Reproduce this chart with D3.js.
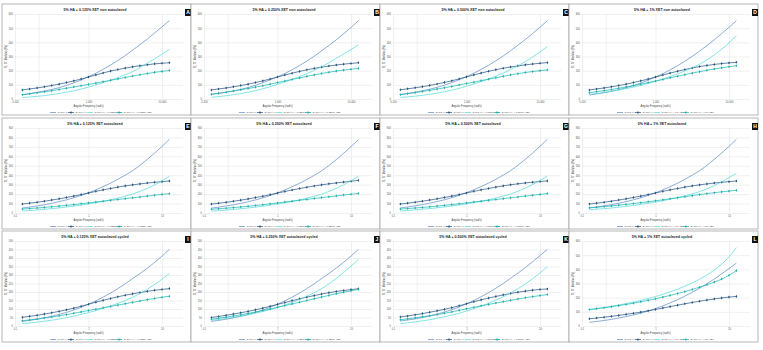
<!DOCTYPE html>
<html>
<head>
<meta charset="utf-8">
<script src="https://cdn.jsdelivr.net/npm/d3@7/dist/d3.min.js"></script>
<style>
body{margin:0;background:#fff;}
text{font-family:"Liberation Sans",Arial,sans-serif;}
</style>
</head>
<body>
<div id="chart"></div>
<script>

// angular frequency (rad/s)
var freqs = [0.126,0.158,0.200,0.251,0.316,0.398,0.501,0.631,0.794,1.00,1.26,1.58,2.00,2.51,3.16,3.98,5.01,6.31,7.94,10.0,12.6];

var panelLetters = ["A","B","C","D","E","F","G","H","I","J","K","L"];
var panelTitles = [
  "5% HA + 0.125% XET non autoclaved","5% HA + 0.250% XET non autoclaved","5% HA + 0.500% XET non autoclaved","5% HA + 1% XET non autoclaved",
  "5% HA + 0.125% XET autoclaved","5% HA + 0.250% XET autoclaved","5% HA + 0.500% XET autoclaved","5% HA + 1% XET autoclaved",
  "5% HA + 0.125% XET autoclaved cycled","5% HA + 0.250% XET autoclaved cycled","5% HA + 0.500% XET autoclaved cycled","5% HA + 1% XET autoclaved cycled"
];
var xetLabels = ["0.125%","0.250%","0.500%","1%","0.125%","0.250%","0.500%","1%","0.125%","0.250%","0.500%","1%"];

var yTicks600 = [0,100,200,300,400,500,600];
var yTicks900 = [0,100,200,300,400,500,600,700,800,900];
var yTicks500 = [0,50,100,150,200,250,300,350,400,450,500];
var panelYTicks = [yTicks600,yTicks600,yTicks600,yTicks600,yTicks900,yTicks900,yTicks900,yTicks900,yTicks500,yTicks500,yTicks500,yTicks600];

var xGridValues = [0.1,0.21,1,10];
var xTickLabelsTop = ["0.100","","1.000","10.000"];
var xTickLabelsLow = ["0.1","","1","10"];

// series order: G' 5% HA, G'' 5% HA, G' 5% HA + XET, G'' 5% HA + XET
var panelA = [
  [30,38,47,56,67,80,96,114,134,158,182,210,240,272,306,345,383,423,466,510,553],
  [64,71,78,86,95,105,116,128,141,155,170,184,197,208,218,227,235,242,248,252,256],
  [10,14,19,24,31,39,48,58,70,84,100,116,133,151,171,193,222,252,283,316,350],
  [30,37,44,51,59,67,76,85,94,103,112,122,132,142,152,162,171,180,188,195,202]
];
var panelB = [
  [33,40,48,57,68,81,97,115,135,157,180,207,236,268,302,340,378,418,460,505,553],
  [64,71,78,86,95,105,116,128,141,155,169,182,195,206,216,225,233,240,246,251,256],
  [12,17,23,30,38,48,59,72,87,104,121,139,158,179,202,227,256,287,318,349,381],
  [33,40,48,56,65,74,84,94,105,116,127,138,149,160,170,180,189,197,204,210,216]
];
var panelC = [
  [31,39,48,58,69,82,98,116,136,158,182,209,238,270,304,341,380,420,462,507,553],
  [65,72,79,87,96,106,117,129,142,156,170,183,196,207,217,226,234,241,247,252,257],
  [11,15,20,26,33,41,51,62,75,90,106,123,141,161,183,207,234,264,297,332,370],
  [31,38,45,53,61,70,79,89,99,109,119,130,140,150,160,170,179,187,194,200,205]
];
var panelD = [
  [28,36,45,55,66,79,95,113,133,155,179,206,235,267,301,338,377,418,461,506,553],
  [64,71,78,86,95,105,116,128,141,155,169,183,196,208,219,229,237,244,250,255,259],
  [33,39,46,54,63,73,84,96,110,125,141,158,177,198,221,246,276,311,351,396,447],
  [45,52,59,67,76,85,95,105,116,127,138,150,161,172,183,193,203,212,220,228,235]
];
var panelE = [
  [53,63,75,88,103,120,139,161,186,214,245,279,316,357,401,448,505,568,635,705,780],
  [95,104,114,125,137,150,164,179,195,212,229,245,260,274,287,298,308,317,325,332,339],
  [21,26,32,39,46,54,63,73,84,96,109,124,140,158,178,200,229,261,298,340,388],
  [42,47,53,59,66,73,81,89,98,107,116,125,134,143,152,161,170,179,188,197,205]
];
var panelF = [
  [52,62,74,87,102,119,138,160,185,213,244,278,315,355,399,446,503,565,632,703,775],
  [94,103,113,124,136,149,163,178,194,211,228,244,259,273,286,298,309,318,327,336,346],
  [20,25,31,38,45,53,62,72,83,95,108,123,139,157,177,199,228,261,299,341,388],
  [40,45,51,57,64,71,79,88,97,106,116,125,135,144,154,163,172,181,190,199,207]
];
var panelG = [
  [54,64,76,89,104,121,140,162,187,215,246,280,317,357,401,449,506,568,635,706,780],
  [95,104,114,125,137,150,164,179,195,212,229,245,260,274,287,299,309,318,326,333,340],
  [22,27,33,40,47,55,64,74,85,97,110,125,141,159,179,201,230,263,301,344,392],
  [42,47,53,59,66,73,81,89,98,107,116,125,134,143,152,161,170,179,188,197,206]
];
var panelH = [
  [53,63,75,88,103,120,139,161,186,214,245,279,316,357,401,448,505,568,635,705,780],
  [95,104,114,125,137,150,164,179,195,212,229,245,260,274,287,298,308,317,325,332,339],
  [35,40,46,53,61,70,80,91,103,116,130,146,163,182,203,226,256,290,330,374,420],
  [55,61,68,75,83,91,100,109,119,129,140,151,162,173,184,195,205,215,224,232,240]
];
var panelI = [
  [27,33,40,48,57,68,80,94,110,128,148,170,194,220,248,279,308,340,374,411,451],
  [51,57,63,70,78,86,95,105,116,128,140,151,162,172,181,189,197,204,210,215,220],
  [14,18,23,28,34,41,49,58,68,79,91,104,118,133,150,169,191,216,244,275,309],
  [31,36,41,47,53,60,67,75,83,91,99,107,115,123,131,139,147,155,162,169,175]
];
var panelJ = [
  [27,33,40,48,57,68,80,94,110,128,148,170,194,220,248,279,309,341,375,411,450],
  [50,56,63,70,78,86,95,105,116,127,138,149,160,170,179,188,196,203,209,214,219],
  [34,39,45,51,58,66,75,85,96,109,123,139,156,175,196,219,248,280,315,352,392],
  [40,46,52,59,66,74,82,91,100,110,120,130,140,150,160,170,180,190,199,207,215]
];
var panelK = [
  [29,35,42,50,59,70,82,96,112,130,150,172,196,222,250,281,311,343,378,414,451],
  [53,59,66,73,81,89,98,108,119,131,143,154,164,174,183,191,199,205,211,215,218],
  [14,19,24,30,37,45,54,64,75,88,102,117,134,152,172,194,219,247,278,312,350],
  [37,42,48,54,60,67,75,83,92,101,110,119,127,135,143,151,159,166,173,179,185]
];
var panelL = [
  [26,32,39,47,56,66,78,91,106,123,142,163,186,211,238,267,298,332,368,405,444],
  [51,56,62,68,75,82,90,98,107,117,127,137,147,157,166,175,183,191,198,204,209],
  [116,123,131,139,148,158,169,181,194,208,224,241,260,281,304,330,360,395,436,488,553],
  [116,122,129,136,144,152,161,171,181,192,204,216,229,243,258,274,291,310,331,358,391]
];
var panels = [panelA,panelB,panelC,panelD,panelE,panelF,panelG,panelH,panelI,panelJ,panelK,panelL];

var seriesColors = ["#5b8ac4","#24527f","#52d8d8","#1bb3ad"];
var seriesMarkers = [false,true,false,true];

var W = 763, H = 350;
var svg = d3.select("#chart").append("svg")
  .attr("width",W).attr("height",H);

var rowTops = [4,118,231];

panels.forEach(function(series,p){
  var col = p % 4, row = Math.floor(p/4);
  var ax = 15 + col*189;          // y axis position
  var top = rowTops[row];
  var plotL = ax, plotR = ax + 168, plotT = top + 10, plotB = top + 95;

  var g = svg.append("g");

  g.append("rect")
    .attr("x",ax-13).attr("y",top)
    .attr("width",189).attr("height",111)
    .attr("fill","#fff")
    .attr("stroke","#a6a6a6").attr("stroke-width",0.8);

  var x = d3.scaleLog().domain([0.1,10]).range([plotL, ax+147]);
  var yTicks = panelYTicks[p];
  var y = d3.scaleLinear().domain([0,yTicks[yTicks.length-1]]).range([plotB,plotT]);

  // y grid + labels
  var yAxis = g.append("g")
    .attr("transform","translate("+plotL+",0)")
    .call(d3.axisLeft(y).tickValues(yTicks).tickSize(-(plotR-plotL)).tickPadding(2));
  yAxis.select(".domain").remove();
  yAxis.selectAll("line").attr("stroke","#e0e0e0").attr("stroke-width",0.5);
  yAxis.selectAll("text").attr("fill","#595959").style("font-size","2.6px");

  // x grid + labels
  var labels = row == 0 ? xTickLabelsTop : xTickLabelsLow;
  var xAxis = g.append("g")
    .attr("transform","translate(0,"+plotB+")")
    .call(d3.axisBottom(x).tickValues(xGridValues).tickSize(-(plotB-plotT)).tickPadding(2)
      .tickFormat(function(d,i){ return labels[i]; }));
  xAxis.select(".domain").remove();
  xAxis.selectAll("line").attr("stroke","#e0e0e0").attr("stroke-width",0.5);
  xAxis.selectAll("text").attr("fill","#595959").style("font-size","2.6px");

  // title
  g.append("text")
    .attr("x",ax+80).attr("y",top+6.5)
    .attr("text-anchor","middle")
    .style("font-size","3.6px").style("font-weight","bold")
    .attr("fill","#262626")
    .text(panelTitles[p]);

  // axis titles
  g.append("text")
    .attr("transform","translate("+(ax-8)+","+((plotT+plotB)/2)+") rotate(-90)")
    .attr("text-anchor","middle")
    .style("font-size","2.6px").attr("fill","#404040")
    .text("G', G'' Modulus (Pa)");
  g.append("text")
    .attr("x",x(1)).attr("y",plotB+7.5)
    .attr("text-anchor","middle")
    .style("font-size","2.6px").attr("fill","#404040")
    .text("Angular Frequency (rad/s)");

  // lines
  var line = d3.line()
    .x(function(d,i){ return x(freqs[i]); })
    .y(function(d){ return y(d); })
    .curve(d3.curveMonotoneX);

  series.forEach(function(vals,s){
    g.append("path")
      .attr("d",line(vals))
      .attr("fill","none")
      .attr("stroke",seriesColors[s])
      .attr("stroke-width",0.7);
    if(seriesMarkers[s]){
      g.selectAll(".mk"+s).data(vals).enter()
        .append("path")
        .attr("class","mk"+s)
        .attr("d",d3.symbol().type(d3.symbolDiamond).size(2.8))
        .attr("transform",function(d,i){ return "translate("+x(freqs[i])+","+y(d)+")"; })
        .attr("fill",seriesColors[s]);
    }
  });

  // legend
  var legNames = ["G' 5% HA","G'' 5% HA","G' 5% HA + "+xetLabels[p]+" XET","G'' 5% HA + "+xetLabels[p]+" XET"];
  var legX = [ax+35, ax+53, ax+72, ax+101];
  var ly = top + 108.5;
  legNames.forEach(function(name,s){
    g.append("line")
      .attr("x1",legX[s]).attr("x2",legX[s]+6)
      .attr("y1",ly).attr("y2",ly)
      .attr("stroke",seriesColors[s]).attr("stroke-width",0.7);
    if(seriesMarkers[s]){
      g.append("path")
        .attr("d",d3.symbol().type(d3.symbolDiamond).size(2.8))
        .attr("transform","translate("+(legX[s]+3)+","+ly+")")
        .attr("fill",seriesColors[s]);
    }
    g.append("text")
      .attr("x",legX[s]+7.5).attr("y",ly+0.9)
      .style("font-size","2.5px").attr("fill","#404040")
      .text(name);
  });

  // panel letter
  g.append("rect")
    .attr("x",ax+170).attr("y",top+5)
    .attr("width",6).attr("height",7)
    .attr("fill","#111");
  g.append("text")
    .attr("x",ax+173).attr("y",top+10.3)
    .attr("text-anchor","middle")
    .style("font-size","5px").style("font-weight","bold")
    .attr("fill","#fff")
    .text(panelLetters[p]);
});

</script>
</body>
</html>
